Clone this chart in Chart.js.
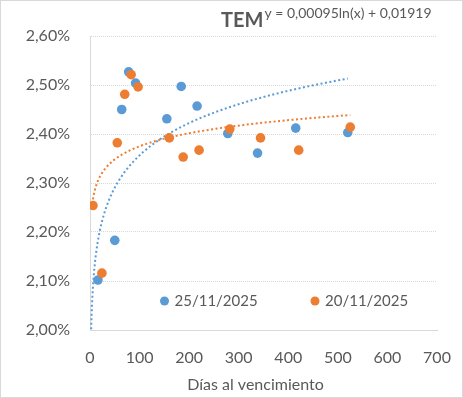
<!DOCTYPE html>
<html>
<head>
<meta charset="utf-8">
<script src="https://cdn.jsdelivr.net/npm/chart.js@4/dist/chart.umd.min.js"></script>
<style>
  html, body { margin: 0; padding: 0; background: #ffffff; }
  canvas { display: block; }
</style>
</head>
<body>
<canvas id="c" width="463" height="398"></canvas>
<script>
// ---- data ----
const chartTitle = 'TEM';
const xAxisTitle = 'Días al vencimiento';
const seriesLabels = ['25/11/2025', '20/11/2025'];
const seriesColors = ['#5B9BD5', '#ED7D31'];

// 25/11/2025 : days to maturity and monthly rate (%)
const days2511 = [16, 50, 64, 78, 92, 155, 184, 216, 278, 338, 415, 520];
const rates2511 = [2.102, 2.183, 2.450, 2.527, 2.504, 2.431, 2.497, 2.457, 2.401, 2.361, 2.412, 2.403];

// 20/11/2025
const days2011 = [6, 24, 55, 70, 83, 97, 160, 188, 220, 282, 344, 421, 525];
const rates2011 = [2.254, 2.116, 2.382, 2.481, 2.521, 2.496, 2.392, 2.353, 2.367, 2.410, 2.392, 2.367, 2.414];

// logarithmic trend shown on the chart for 25/11/2025 (y as fraction)
const trend2511Slope = 0.00095;
const trend2511Intercept = 0.01919;
const trend2511Range = [1, 520];

// axis ranges / ticks
const xMin = 0, xMax = 700, xStep = 100;
const yMin = 2.0, yMax = 2.6, yStep = 0.1;

// ---- helpers ----
function fmtComma(v, d) { return v.toFixed(d).replace('.', ','); }

// least-squares log fit for 20/11/2025 (Excel-style logarithmic trendline)
function logFit(xs, ys) {
  const n = xs.length;
  const lx = xs.map(Math.log);
  const mx = lx.reduce((a, b) => a + b, 0) / n;
  const my = ys.reduce((a, b) => a + b, 0) / n;
  let sxy = 0, sxx = 0;
  for (let i = 0; i < n; i++) { sxy += (lx[i] - mx) * (ys[i] - my); sxx += (lx[i] - mx) ** 2; }
  const slope = sxy / sxx;
  return { slope, intercept: my - slope * mx };
}

function sampleCurve(fn, x0, x1, n) {
  const pts = [];
  for (let i = 0; i < n; i++) {
    const x = x0 * Math.pow(x1 / x0, i / (n - 1));
    pts.push({ x, y: fn(x) });
  }
  return pts;
}

const fit2011 = logFit(days2011, rates2011);
const trendBlue = sampleCurve(x => 100 * (trend2511Slope * Math.log(x) + trend2511Intercept),
  trend2511Range[0], trend2511Range[1], 160);
const trendOrange = sampleCurve(x => fit2011.slope * Math.log(x) + fit2011.intercept,
  Math.min(...days2011), Math.max(...days2011), 120);

const equationText = 'y = ' + fmtComma(trend2511Slope, 5) + 'ln(x) + ' + fmtComma(trend2511Intercept, 5);

const FONT = 'Lato, "Open Sans", sans-serif';
const GREY_TEXT = '#595959';
const GRID = '#D9D9D9';

const pts = (xs, ys) => xs.map((x, i) => ({ x, y: ys[i] }));

// custom drawing: title with equation, in-plot legend, axis title, chart border
const decorPlugin = {
  id: 'decor',
  afterDraw(chart) {
    const ctx = chart.ctx;
    ctx.save();
    // title
    ctx.fillStyle = GREY_TEXT;
    ctx.textBaseline = 'alphabetic';
    ctx.textAlign = 'left';
    ctx.font = 'bold 20px ' + FONT;
    const tx = 221, ty = 27;
    ctx.fillText(chartTitle, tx, ty);
    const tw = ctx.measureText(chartTitle).width;
    ctx.font = '14px ' + FONT;
    ctx.fillText(equationText, tx + tw + 1, 17.5);

    // x axis title
    ctx.font = '16px ' + FONT;
    ctx.textAlign = 'center';
    ctx.fillText(xAxisTitle, 255.5, 390);

    // legend inside plot area
    ctx.textAlign = 'left';
    ctx.font = '15px ' + FONT;
    ctx.textBaseline = 'middle';
    const ly = 301;
    const legendX = [164.5, 315];
    for (let i = 0; i < 2; i++) {
      ctx.beginPath();
      ctx.fillStyle = seriesColors[i];
      ctx.arc(legendX[i], ly, 4.5, 0, Math.PI * 2);
      ctx.fill();
      ctx.fillStyle = GREY_TEXT;
      ctx.fillText(seriesLabels[i], legendX[i] + 10, ly);
    }

    // chart border
    ctx.strokeStyle = GRID;
    ctx.lineWidth = 1;
    ctx.strokeRect(0.5, 0.5, chart.width - 1, chart.height - 1);
    ctx.restore();
  }
};

new Chart(document.getElementById('c'), {
  type: 'scatter',
  data: {
    datasets: [
      {
        label: seriesLabels[1],
        data: pts(days2011, rates2011),
        backgroundColor: seriesColors[1],
        borderWidth: 0,
        pointRadius: 4.8,
        showLine: false
      },
      {
        label: seriesLabels[0],
        data: pts(days2511, rates2511),
        backgroundColor: seriesColors[0],
        borderWidth: 0,
        pointRadius: 4.8,
        showLine: false
      },
      {
        label: 'trend ' + seriesLabels[1],
        data: trendOrange,
        showLine: true,
        borderColor: seriesColors[1],
        borderWidth: 2,
        borderDash: [2, 2.5],
        pointRadius: 0,
        fill: false,
        tension: 0
      },
      {
        label: 'trend ' + seriesLabels[0],
        data: trendBlue,
        showLine: true,
        borderColor: seriesColors[0],
        borderWidth: 2,
        borderDash: [2, 2.5],
        pointRadius: 0,
        fill: false,
        tension: 0
      }
    ]
  },
  options: {
    responsive: false,
    animation: false,
    devicePixelRatio: 1,
    layout: { padding: { top: 36, right: 26, left: 0, bottom: 0 } },
    plugins: {
      legend: { display: false },
      title: { display: false },
      tooltip: { enabled: false }
    },
    scales: {
      x: {
        type: 'linear',
        min: xMin, max: xMax,
        ticks: {
          stepSize: xStep,
          color: GREY_TEXT,
          font: { family: FONT, size: 16 },
          padding: 18,
          maxRotation: 0
        },
        grid: { display: false, drawTicks: false },
        border: { display: true, color: GRID, width: 1 },
        title: { display: false },
        afterFit(scale) {
          scale.height = 68;
          scale.paddingLeft = 0;
          scale.paddingRight = 0;
        }
      },
      y: {
        type: 'linear',
        min: yMin, max: yMax,
        ticks: {
          stepSize: yStep,
          color: GREY_TEXT,
          font: { family: FONT, size: 16 },
          padding: 20,
          callback: v => fmtComma(v, 2) + '%'
        },
        grid: { display: true, color: GRID, drawTicks: false, lineWidth: 1 },
        border: { display: true, color: GRID, width: 1, dash: [1, 1] },
        afterFit(scale) {
          scale.width = 90;
          scale.paddingTop = 0;
          scale.paddingBottom = 0;
        }
      }
    }
  },
  plugins: [decorPlugin]
});
</script>
</body>
</html>
